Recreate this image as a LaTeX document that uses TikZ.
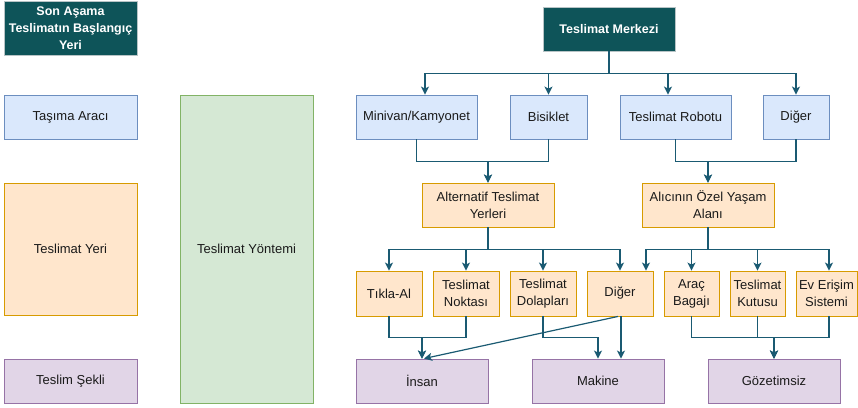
\documentclass[tikz,border=0pt]{standalone}
\usepackage{fontspec}
\setmainfont{Liberation Sans}
\usetikzlibrary{arrows.meta,calc}
\definecolor{bluefill}{HTML}{DAE8FC}
\definecolor{bluedraw}{HTML}{6C8EBF}
\definecolor{orfill}{HTML}{FFE6CC}
\definecolor{ordraw}{HTML}{D79B00}
\definecolor{pufill}{HTML}{E1D5E7}
\definecolor{pudraw}{HTML}{9673A6}
\definecolor{grfill}{HTML}{D5E8D4}
\definecolor{grdraw}{HTML}{82B366}
\definecolor{darkfill}{HTML}{0E5459}
\definecolor{darkdraw}{HTML}{B8C4C6}
\definecolor{linkcol}{HTML}{1A5A72}
\definecolor{txt}{HTML}{1A1A1A}
\tikzset{
  box/.style={rectangle, inner sep=0pt, line width=0.9pt, align=center,
    text=txt, font=\fontsize{13}{17}\selectfont},
  bluebox/.style={box, fill=bluefill, draw=bluedraw},
  orbox/.style={box, fill=orfill, draw=ordraw},
  pubox/.style={box, fill=pufill, draw=pudraw},
  grbox/.style={box, fill=grfill, draw=grdraw},
  darkbox/.style={box, fill=darkfill, draw=darkdraw, text=white,
    font=\fontsize{12.5}{17}\selectfont\bfseries},
  sz/.style 2 args={minimum width=#1pt, minimum height=#2pt},
  conn/.style={draw=linkcol, line width=1.2pt,
    -{Stealth[length=8pt,width=8pt,inset=2pt]}},
}
\begin{document}
\begin{tikzpicture}[x=1pt,y=-1pt]
\useasboundingbox (0,0) rectangle (858,407);

% legend column
\node[darkbox, sz={133}{54}] (start) at (70.5,28) {Son Aşama\\Teslimatın Başlangıç\\Yeri};
\node[bluebox, sz={133}{44}] (tasima) at (70.5,117) {Taşıma Aracı};
\node[orbox, sz={133}{132}] (yeri) at (70.5,249) {Teslimat Yeri};
\node[pubox, sz={133}{44}] (sekli) at (70.5,381) {Teslim Şekli};
\node[grbox, sz={133}{308}] (yontem) at (246.5,249) {Teslimat Yöntemi};

% start point
\node[darkbox, sz={132}{44}] (merkez) at (609,29) {Teslimat Merkezi};

% transport
\node[bluebox, sz={121}{44}] (minivan) at (416.5,117) {Minivan/Kamyonet};
\node[bluebox, sz={77}{44}] (bisiklet) at (548.5,117) {Bisiklet};
\node[bluebox, sz={111}{44}] (robot) at (675.5,117) {Teslimat Robotu};
\node[bluebox, sz={66}{44}] (diger1) at (796,117) {Diğer};

% delivery location
\node[orbox, sz={132}{44}] (alt) at (488,205) {Alternatif Teslimat\\Yerleri};
\node[orbox, sz={132}{44}] (alici) at (708,205) {Alıcının Özel Yaşam\\Alanı};

\node[orbox, sz={66}{45}] (tikla) at (389,293.5) {Tıkla-Al};
\node[orbox, sz={66}{45}] (nokta) at (466,293.5) {Teslimat\\Noktası};
\node[orbox, sz={66}{45}] (dolap) at (543,293.5) {Teslimat\\Dolapları};
\node[orbox, sz={66}{45}] (diger2) at (620,293.5) {Diğer};
\node[orbox, sz={55}{45}] (bagaj) at (691.5,293.5) {Araç\\Bagajı};
\node[orbox, sz={55}{45}] (kutu) at (757.5,293.5) {Teslimat\\Kutusu};
\node[orbox, sz={61}{45}] (ev) at (826.5,293.5) {Ev Erişim\\Sistemi};

% handover type
\node[pubox, sz={132}{44}] (insan) at (422,381) {İnsan};
\node[pubox, sz={132}{44}] (makine) at (598,381) {Makine};
\node[pubox, sz={132}{44}] (gozet) at (774,381) {Gözetimsiz};

% centre to vehicles
\draw[conn] (merkez.south) -- ++(0,22) -| ([xshift=8.5pt]minivan.north);
\draw[conn] (merkez.south) -- ++(0,22) -| (bisiklet.north);
\draw[conn] (merkez.south) -- ++(0,22) -| ([xshift=-7.5pt]robot.north);
\draw[conn] (merkez.south) -- ++(0,22) -| (diger1.north);

% vehicles to locations
\draw[conn] (minivan.south) -- ++(0,22) -| (alt.north);
\draw[conn] (bisiklet.south) -- ++(0,22) -| (alt.north);
\draw[conn] (robot.south) -- ++(0,22) -| (alici.north);
\draw[conn] (diger1.south) -- ++(0,22) -| (alici.north);

% locations to sub-locations
\draw[conn] (alt.south) -- ++(0,22) -| (tikla.north);
\draw[conn] (alt.south) -- ++(0,22) -| (nokta.north);
\draw[conn] (alt.south) -- ++(0,22) -| (dolap.north);
\draw[conn] (alt.south) -- ++(0,22) -| (diger2.north);
\draw[conn] (alici.south) -- ++(0,22) -| ([xshift=26pt]diger2.north);
\draw[conn] (alici.south) -- ++(0,22) -| (bagaj.north);
\draw[conn] (alici.south) -- ++(0,22) -| (kutu.north);
\draw[conn] (alici.south) -- ++(0,22) -| ([xshift=2.5pt]ev.north);

% sub-locations to handover type
\draw[conn] (tikla.south) -- ++(0,21) -| (insan.north);
\draw[conn] (nokta.south) -- ++(0,21) -| (insan.north);
\draw[conn] ([xshift=-2pt]diger2.south) -- ([xshift=2pt]insan.north);
\draw[conn] (dolap.south) -- ++(0,21) -| (makine.north);
\draw[conn] ([xshift=1pt]diger2.south) -- ([xshift=23pt]makine.north);
\draw[conn] (bagaj.south) -- ++(0,21) -| (gozet.north);
\draw[conn] (kutu.south) -- ++(0,21) -| (gozet.north);
\draw[conn] ([xshift=2.5pt]ev.south) -- ++(0,21) -| (gozet.north);
\end{tikzpicture}
\end{document}
